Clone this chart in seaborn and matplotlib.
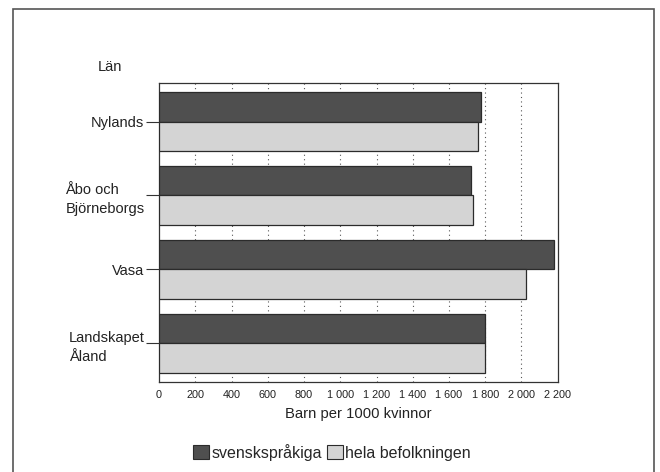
import matplotlib
matplotlib.use("Agg")
import matplotlib.pyplot as plt
import matplotlib.patches as mpatches
import numpy as np
import pandas as pd
import seaborn as sns

# ---------------------------------------------------------------------------
# Data
# ---------------------------------------------------------------------------
lan = ["Nylands", "Åbo och\nBjörneborgs", "Vasa", "Landskapet\nÅland"]
svensksprakiga = [1775, 1720, 2180, 1800]
hela_befolkningen = [1760, 1735, 2025, 1800]
series_names = ["svenskspråkiga", "hela befolkningen"]
x_ticks = list(range(0, 2201, 200))
x_ticklabels = ["0", "200", "400", "600", "800", "1 000", "1 200", "1 400",
                "1 600", "1 800", "2 000", "2 200"]

df = pd.DataFrame({
    "lan": lan * 2,
    "grupp": [series_names[0]] * len(lan) + [series_names[1]] * len(lan),
    "barn": svensksprakiga + hela_befolkningen,
})

dark = "#4f4f4f"
light = "#d4d4d4"
edge = "#2b2b2b"

sns.set_style("white")
plt.rcParams["font.family"] = ["Liberation Sans", "DejaVu Sans"]

fig = plt.figure(figsize=(6.6, 4.72), dpi=100)
ax = fig.add_axes([0.241, 0.191, 0.604, 0.633])

sns.barplot(data=df, x="barn", y="lan", hue="grupp", orient="h",
            palette=[dark, light], width=0.8, saturation=1,
            edgecolor=edge, linewidth=0.9, ax=ax, legend=False, zorder=3)

ax.set_xlim(0, 2200)
ax.set_ylim(3.52, -0.52)

# dotted vertical grid, visible between the bar pairs
for v in x_ticks[1:-1]:
    ax.axvline(v, color="#555555", linestyle=(0, (1, 3)), linewidth=0.8, zorder=1)

ax.set_xticks(x_ticks)
ax.set_xticklabels(x_ticklabels, fontsize=7.8, color="#222222")
ax.tick_params(axis="x", length=0, pad=6)
ax.tick_params(axis="y", length=9.5, width=0.8, color="#333333", pad=1,
               labelsize=10.5, labelcolor="#222222", left=True)
for lab in ax.get_yticklabels():
    lab.set_multialignment("left")
    lab.set_linespacing(1.5)

ax.set_xlabel("Barn per 1000 kvinnor", fontsize=10.6, color="#222222", labelpad=5)
ax.set_ylabel("")
for s in ax.spines.values():
    s.set_color("#333333")
    s.set_linewidth(0.9)

fig.text(0.167, 0.858, "Län", fontsize=10.5, color="#222222", ha="center", va="center")

handles = [mpatches.Patch(facecolor=dark, edgecolor=edge, linewidth=0.8),
           mpatches.Patch(facecolor=light, edgecolor=edge, linewidth=0.8)]
fig.legend(handles, series_names, loc="center", bbox_to_anchor=(0.503, 0.042),
           ncol=2, frameon=False, fontsize=11.5, handlelength=1.0, handleheight=1.0,
           handletextpad=0.15, columnspacing=0.3, borderaxespad=0)

# outer frame of the figure box
fig.patches.append(mpatches.Rectangle((13 / 660, -0.05), (654 - 13) / 660, 1.05 - 9 / 472,
                                      transform=fig.transFigure, fill=False,
                                      edgecolor="#555555", linewidth=1.2))

fig.savefig("out.png", dpi=100)
